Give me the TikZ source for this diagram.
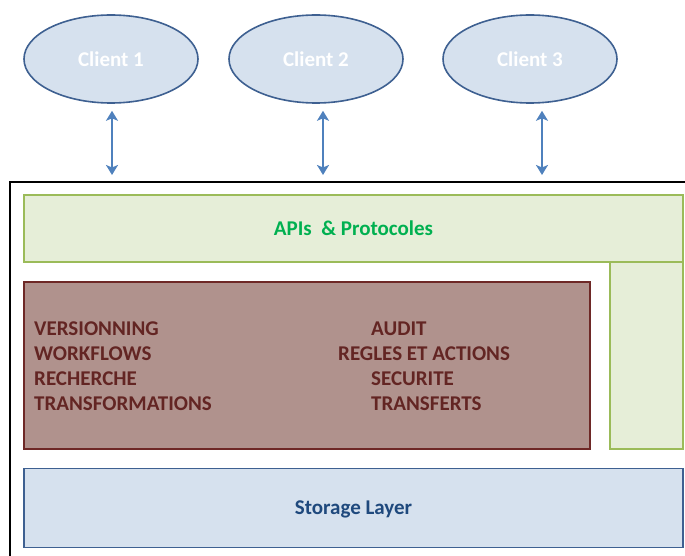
\documentclass[tikz,border=0pt]{standalone}
\usepackage{fontspec}
\setmainfont{Carlito}
\usetikzlibrary{arrows.meta, shapes.geometric}

\definecolor{clientfill}{RGB}{214,225,238}
\definecolor{clientline}{RGB}{62,96,145}
\definecolor{linkblue}{RGB}{79,129,189}
\definecolor{apifill}{RGB}{230,238,216}
\definecolor{apiline}{RGB}{155,187,89}
\definecolor{apitext}{RGB}{0,176,80}
\definecolor{corefill}{RGB}{176,146,141}
\definecolor{coreline}{RGB}{110,40,38}
\definecolor{coretext}{RGB}{99,37,35}
\definecolor{storetext}{RGB}{31,73,125}

\begin{document}
\begin{tikzpicture}[x=1pt, y=-1pt,
    client/.style={ellipse, draw=clientline, fill=clientfill, line width=1.6pt,
      minimum width=174pt, minimum height=88pt, inner sep=0pt, text=white,
      font=\bfseries\fontsize{21}{25}\selectfont},
    link/.style={draw=linkblue, line width=2.2pt, shorten <=7pt,
      {Stealth[length=10pt,width=12pt,inset=2.5pt,fill=linkblue]}-{Stealth[length=10pt,width=12pt,inset=2.5pt,fill=linkblue]}},
    layer/.style={rectangle, line width=1.6pt, inner sep=0pt, text depth=0pt,
      font=\bfseries\fontsize{21}{25}\selectfont},
    feature/.style={anchor=west, inner sep=0pt, text=coretext,
      font=\bfseries\fontsize{21}{25}\selectfont}]
  \useasboundingbox (0,0) rectangle (685,556);

  % clients
  \node[client] (c1) at (111,59) {Client 1};
  \node[client] (c2) at (316,59) {Client 2};
  \node[client] (c3) at (530,59) {Client 3};

  % outer frame (cut at the right and bottom)
  \draw[line width=1.8pt, black] (10,556) -- (10,182) -- (685,182);

  \coordinate (p1) at (112,175);
  \coordinate (p2) at (323,175);
  \coordinate (p3) at (542,175);
  \draw[link] (c1.south -| p1) -- (p1);
  \draw[link] (c2.south -| p2) -- (p2);
  \draw[link] (c3.south -| p3) -- (p3);

  % layers
  \node[layer, draw=apiline, fill=apifill, minimum width=73pt, minimum height=187pt]
    (side) at (646.5,355.5) {};
  \node[layer, draw=apiline, fill=apifill, text=apitext, minimum width=659pt, minimum height=67pt]
    (api) at (353.5,228.5) {APIs \ \& Protocoles};
  \node[layer, draw=coreline, fill=corefill, minimum width=566pt, minimum height=167pt]
    (core) at (307,365.5) {};
  \node[layer, draw=clientline, fill=clientfill, text=storetext, minimum width=659pt, minimum height=79pt]
    (store) at (353.5,508) {Storage Layer};

  \foreach \txt [count=\i] in {VERSIONNING, WORKFLOWS, RECHERCHE, TRANSFORMATIONS}
    \node[feature] (fl\i) at (34,304+25*\i) {\txt};
  \foreach \txt/\xx [count=\i] in {AUDIT/371, REGLES ET ACTIONS/338, SECURITE/371, TRANSFERTS/371}
    \node[feature] (fr\i) at (\xx,304+25*\i) {\txt};
\end{tikzpicture}
\end{document}
